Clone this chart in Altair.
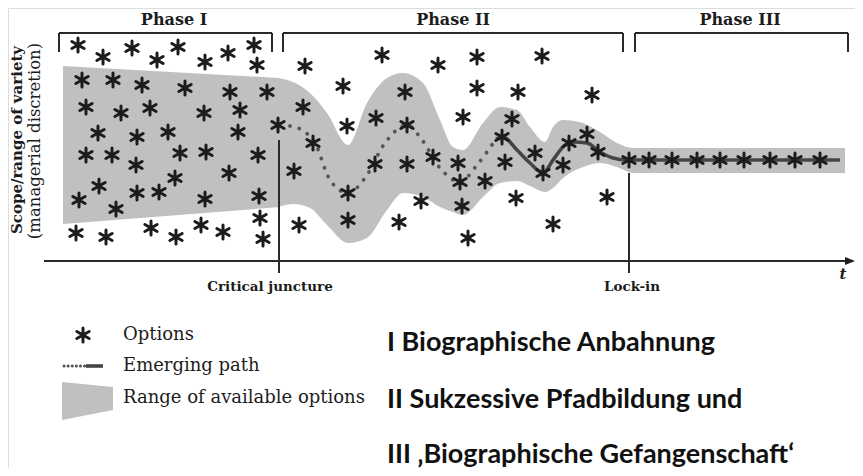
import altair as alt
import pandas as pd

# ---------------- data (image units) ----------------
# Options (asterisks)
opt_x = [78, 103, 132, 157, 178, 205, 228, 254, 257,
         82, 113, 142, 185, 230, 267,
         86, 121, 150, 204, 240,
         98, 137, 168, 238, 278,
         86, 112, 136, 180, 206, 258,
         99, 175, 229,
         79, 116, 137, 159, 205, 259,
         76, 106, 151, 176, 201, 223, 260, 263,
         305, 382, 438, 477, 542,
         343, 405, 477, 518, 592,
         303, 347, 376, 463, 512,
         407, 502, 587,
         313, 433, 458, 535, 569, 598,
         294, 375, 407, 460, 485, 505, 543, 563,
         348, 421, 462, 516, 607,
         299, 348, 399, 553,
         468,
         629, 649, 672, 697, 720, 744, 770, 795, 820]
opt_y = [45, 57, 48, 60, 47, 62, 53, 45, 65,
         80, 80, 85, 88, 92, 92,
         107, 113, 108, 113, 110,
         133, 137, 132, 132, 125,
         155, 155, 165, 153, 152, 155,
         186, 178, 173,
         200, 209, 193, 192, 199, 196,
         233, 237, 228, 237, 225, 232, 218, 239,
         66, 55, 65, 57, 56,
         86, 92, 88, 92, 95,
         107, 126, 118, 117, 119,
         125, 137, 134,
         143, 157, 163, 153, 143, 152,
         171, 164, 164, 182, 181, 162, 173, 165,
         193, 201, 206, 198, 197,
         225, 220, 222, 224,
         238,
         160, 160, 160, 160, 160, 160, 160, 160, 160]

# Range of available options (band): straight Phase I part, then curved part
lin_x = [63, 280]
lin_top = [66, 78]
lin_bot = [224, 207]
band_x = [278, 293, 310, 327, 348, 367, 387, 403, 423, 440, 453, 463,
          483, 500, 517, 530, 545, 553, 563, 583, 600, 617, 633, 845]
band_top = [78, 82, 93, 113, 145, 103, 78, 73, 83, 120, 147, 150,
            123, 107, 110, 127, 142, 127, 120, 123, 132, 143, 148, 148]
band_bot = [207, 204, 208, 225, 243, 238, 210, 193, 197, 207, 212, 215,
            197, 183, 181, 186, 192, 188, 178, 167, 163, 167, 173, 173]

# Emerging path: dotted part, then solid part
dot_x = [290, 302, 315, 330, 348, 365, 385, 407, 420, 440, 460, 477, 496]
dot_y = [126, 130, 143, 180, 193, 178, 143, 125, 137, 168, 182, 165, 139]
sol_x = [496, 503, 517, 530, 543, 553, 563, 573, 587, 600, 613, 627, 840]
sol_y = [139, 137, 150, 163, 173, 160, 147, 142, 143, 152, 158, 160, 160]

# Phase brackets
phase_names = ["Phase I", "Phase II", "Phase III"]
phase_left = [59, 283, 635]
phase_right = [272, 623, 848]
phase_label_x = [174, 453, 740]
phase_top = 33
phase_tick = 52
phase_label_y = 20

# Markers on the time axis
marker_names = ["Critical juncture", "Lock-in"]
marker_x = [279, 629]
marker_top = [140, 173]
marker_bottom = 273
marker_label_x = [270, 632]
marker_label_y = 287

axis_y = 261
axis_x0, axis_x1 = 44, 851

y_title = ["Scope/range of variety", "(managerial discretion)"]
legend_labels = ["Options", "Emerging path", "Range of available options"]
legend_y = [335, 366, 398]
phase_texts = ["I Biographische Anbahnung",
               "II Sukzessive Pfadbildung und",
               "III \u201aBiographische Gefangenschaft\u2018"]
phase_text_y = [343, 400, 455]

# ---------------- chart ----------------
xs = alt.Scale(domain=[8, 855], nice=False, zero=False)
ys = alt.Scale(domain=[8, 468], reverse=True, nice=False, zero=False)
X = lambda f: alt.X(f, type="quantitative", scale=xs, axis=None)
Y = lambda f: alt.Y(f, type="quantitative", scale=ys, axis=None)

GREY = "#c0c0c0"
INK = "#1c1c1c"
SERIF = "DejaVu Serif"

lin_df = pd.DataFrame({"x": lin_x, "top": lin_top, "bot": lin_bot})
band_lin = alt.Chart(lin_df).mark_area(color=GREY, opacity=1).encode(
    x=X("x"), y=Y("top"), y2="bot")
band_df = pd.DataFrame({"x": band_x, "top": band_top, "bot": band_bot})
band = alt.Chart(band_df).mark_area(color=GREY, interpolate="monotone", opacity=1).encode(
    x=X("x"), y=Y("top"), y2="bot")

# legend swatch for the band
sw_df = pd.DataFrame({"x": [62, 113], "top": [382, 387], "bot": [420, 410]})
swatch = alt.Chart(sw_df).mark_area(color=GREY, opacity=1).encode(
    x=X("x"), y=Y("top"), y2="bot")

dot_df = pd.DataFrame({"x": dot_x, "y": dot_y})
dotted = alt.Chart(dot_df).mark_line(
    color="#555555", strokeWidth=3.8, strokeCap="round", strokeDash=[0.1, 9.5],
    interpolate="monotone").encode(x=X("x"), y=Y("y"))
sol_df = pd.DataFrame({"x": sol_x, "y": sol_y})
solid = alt.Chart(sol_df).mark_line(
    color="#454545", strokeWidth=3.6, interpolate="monotone").encode(x=X("x"), y=Y("y"))

# legend path
lgd_dot = alt.Chart(pd.DataFrame({"x": [64, 85], "y": [366, 366]})).mark_line(
    color="#555555", strokeWidth=3, strokeCap="round", strokeDash=[0.1, 4]).encode(
    x=X("x"), y=Y("y"))
lgd_sol = alt.Chart(pd.DataFrame({"x": [86, 103], "y": [366, 366]})).mark_line(
    color="#454545", strokeWidth=3.6).encode(x=X("x"), y=Y("y"))

ASTER = "M0,-1L0,1M-0.87,-0.5L0.87,0.5M-0.87,0.5L0.87,-0.5"
opt_df = pd.DataFrame({"x": opt_x + [83], "y": opt_y + [335]})
options = alt.Chart(opt_df).mark_point(
    shape=ASTER, size=200, filled=False, stroke=INK, strokeWidth=3,
    strokeCap="round", opacity=1).encode(x=X("x"), y=Y("y"))

# line segments: brackets, markers, axis
seg = []
for l, r in zip(phase_left, phase_right):
    seg += [(l, phase_tick, l, phase_top), (l, phase_top, r, phase_top),
            (r, phase_top, r, phase_tick)]
for mx, mt in zip(marker_x, marker_top):
    seg.append((mx, mt, mx, marker_bottom))
seg.append((axis_x0, axis_y, axis_x1, axis_y))
seg_df = pd.DataFrame(seg, columns=["x", "y", "x2", "y2"])
rules = alt.Chart(seg_df).mark_rule(color="#2a2a2a", strokeWidth=2).encode(
    x=X("x"), y=Y("y"), x2="x2", y2="y2")

arrow = alt.Chart(pd.DataFrame({"x": [850], "y": [axis_y]})).mark_point(
    shape="M-1,-0.8L1,0L-1,0.8Z", size=100, filled=True, color=INK, opacity=1).encode(
    x=X("x"), y=Y("y"))

phase_df = pd.DataFrame({"t": phase_names, "x": phase_label_x,
                         "y": [phase_label_y] * 3})
phase_lbl = alt.Chart(phase_df).mark_text(
    font=SERIF, fontWeight="bold", fontSize=16, color=INK, baseline="middle").encode(
    x=X("x"), y=Y("y"), text="t")

mk_df = pd.DataFrame({"t": marker_names, "x": marker_label_x, "y": [marker_label_y] * 2})
mk_lbl = alt.Chart(mk_df).mark_text(
    font=SERIF, fontWeight="bold", fontSize=13.5, color=INK, baseline="middle").encode(
    x=X("x"), y=Y("y"), text="t")

t_lbl = alt.Chart(pd.DataFrame({"t": ["t"], "x": [843], "y": [274]})).mark_text(
    font=SERIF, fontWeight="bold", fontStyle="italic", fontSize=15, color=INK,
    baseline="middle").encode(x=X("x"), y=Y("y"), text="t")

yt_df = pd.DataFrame({"t": y_title, "x": [17, 35], "y": [140, 141]})
yt1 = alt.Chart(yt_df.iloc[[0]]).mark_text(
    font=SERIF, fontWeight="bold", fontSize=15, angle=270, color=INK,
    baseline="middle").encode(x=X("x"), y=Y("y"), text="t")
yt2 = alt.Chart(yt_df.iloc[[1]]).mark_text(
    font=SERIF, fontSize=16.5, angle=270, color=INK,
    baseline="middle").encode(x=X("x"), y=Y("y"), text="t")

lg_df = pd.DataFrame({"t": legend_labels, "x": [123] * 3, "y": legend_y})
lg_lbl = alt.Chart(lg_df).mark_text(
    font=SERIF, fontSize=18, color=INK, align="left", baseline="middle").encode(
    x=X("x"), y=Y("y"), text="t")

pt_df = pd.DataFrame({"t": phase_texts, "x": [387] * 3, "y": phase_text_y})
pt_lbl = alt.Chart(pt_df).mark_text(
    font="Lato", fontWeight="bold", fontSize=27, color="#111111", align="left",
    baseline="middle").encode(x=X("x"), y=Y("y"), text="t")

chart = alt.layer(
    band_lin, band, swatch, rules, arrow, dotted, solid, lgd_dot, lgd_sol, options,
    phase_lbl, mk_lbl, t_lbl, yt1, yt2, lg_lbl, pt_lbl
).properties(
    width=847, height=460, autosize=alt.AutoSizeParams(type="none"), padding=0
).configure_view(stroke=None).configure(background="white")

chart.save("out.html", embed_options={"renderer": "svg", "actions": False})
